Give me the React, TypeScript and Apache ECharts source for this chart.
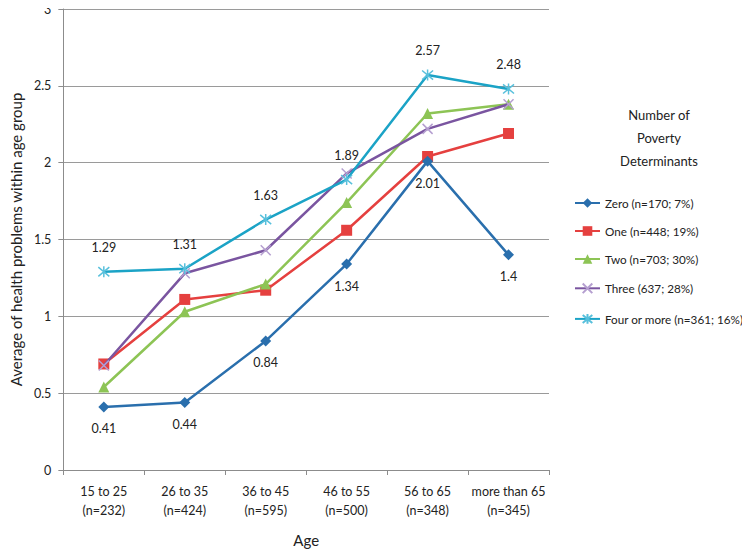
import React, { useEffect, useRef } from "react";
import * as echarts from "echarts";

const categories = [
  "15 to 25\n(n=232)",
  "26 to 35\n(n=424)",
  "36 to 45\n(n=595)",
  "46 to 55\n(n=500)",
  "56 to 65\n(n=348)",
  "more than 65\n(n=345)",
];
const zero = [0.41, 0.44, 0.84, 1.34, 2.01, 1.4];
const one = [0.69, 1.11, 1.17, 1.56, 2.04, 2.19];
const two = [0.54, 1.03, 1.21, 1.74, 2.32, 2.38];
const three = [0.68, 1.28, 1.43, 1.93, 2.22, 2.38];
const four = [1.29, 1.31, 1.63, 1.89, 2.57, 2.48];
const seriesNames = [
  "Zero (n=170; 7%)",
  "One (n=448; 19%)",
  "Two (n=703; 30%)",
  "Three (637; 28%)",
  "Four or more (n=361; 16%)",
];
const yTicks = [0, 0.5, 1, 1.5, 2, 2.5, 3];

const FONT = "Lato, 'Noto Sans', sans-serif";
const TXT = "#222";

export default function App() {
  const ref = useRef<HTMLDivElement>(null);
  useEffect(() => {
    if (!ref.current) return;
    const chart = echarts.init(ref.current, undefined, { renderer: "svg" });
    const xSym = "path://M0,0L10,10M10,0L0,10";
    const starSym = "path://M0,0L10,10M10,0L0,10M5,-1L5,11";
    const mk = (
      name: string,
      data: number[],
      color: string,
      symbol: string,
      size: number,
      extra: any = {}
    ) => ({
      name,
      type: "line",
      data,
      symbol,
      symbolSize: size,
      lineStyle: { color, width: 2.5 },
      itemStyle: { color },
      ...extra,
    });
    chart.setOption({
      animation: false,
      textStyle: { fontFamily: FONT },
      title: {
        text: "Number of\nPoverty\nDeterminants",
        left: 654,
        top: 98,
        textAlign: "center",
        textStyle: {
          fontFamily: FONT,
          fontSize: 13,
          fontWeight: "normal",
          color: TXT,
          lineHeight: 23,
        },
      },
      legend: {
        orient: "vertical",
        left: 569,
        top: 192,
        itemWidth: 25,
        itemHeight: 12,
        itemGap: 16,
        textStyle: { fontFamily: FONT, fontSize: 11.7, color: TXT },
        data: seriesNames,
      },
      grid: { left: 57, right: 201, top: 9, bottom: 87, containLabel: false },
      xAxis: {
        type: "category",
        data: categories,
        boundaryGap: true,
        name: "Age",
        nameLocation: "middle",
        nameGap: 62,
        nameTextStyle: { fontFamily: FONT, fontSize: 15, color: TXT },
        axisLine: { lineStyle: { color: "#8c8c8c", width: 1 } },
        axisTick: { show: true, length: 5, lineStyle: { color: "#8c8c8c" } },
        axisLabel: {
          fontFamily: FONT,
          fontSize: 12.5,
          color: TXT,
          lineHeight: 19,
          margin: 12,
          interval: 0,
        },
      },
      yAxis: {
        type: "value",
        min: 0,
        max: 3,
        interval: 0.5,
        name: "Average of health problems within age group",
        nameLocation: "middle",
        nameGap: 32,
        nameTextStyle: { fontFamily: FONT, fontSize: 15, color: TXT },
        axisLine: { show: true, lineStyle: { color: "#8c8c8c", width: 1 } },
        axisTick: { show: true, length: 5, lineStyle: { color: "#8c8c8c" } },
        axisLabel: {
          fontFamily: FONT,
          fontSize: 12.5,
          color: TXT,
          margin: 12,
          formatter: (v: number) => (yTicks.includes(v) ? String(v) : ""),
        },
        splitLine: { show: true, lineStyle: { color: "#9a9a9a", width: 1 } },
      },
      series: [
        mk(seriesNames[0], zero, "#2a6fad", "diamond", 11, {
          z: 6,
          label: {
            show: true,
            position: "bottom",
            distance: 10,
            fontFamily: FONT,
            fontSize: 12.5,
            color: TXT,
          },
        }),
        mk(seriesNames[1], one, "#e5403f", "rect", 11, { z: 3 }),
        mk(seriesNames[2], two, "#8dc455", "triangle", 11, { z: 4 }),
        mk(seriesNames[3], three, "#7a55a0", xSym, 10, {
          z: 5,
          itemStyle: { color: "none", borderColor: "#b59fd0", borderWidth: 1.5 },
        }),
        mk(seriesNames[4], four, "#1ba3c6", starSym, 11, {
          z: 7,
          itemStyle: { color: "none", borderColor: "#58c0dc", borderWidth: 1.5 },
          label: {
            show: true,
            position: "top",
            distance: 10,
            fontFamily: FONT,
            fontSize: 12.5,
            color: TXT,
          },
        }),
      ],
    });
    return () => chart.dispose();
  }, []);
  return <div ref={ref} style={{ width: 750, height: 557, margin: -8 }} />;
}
